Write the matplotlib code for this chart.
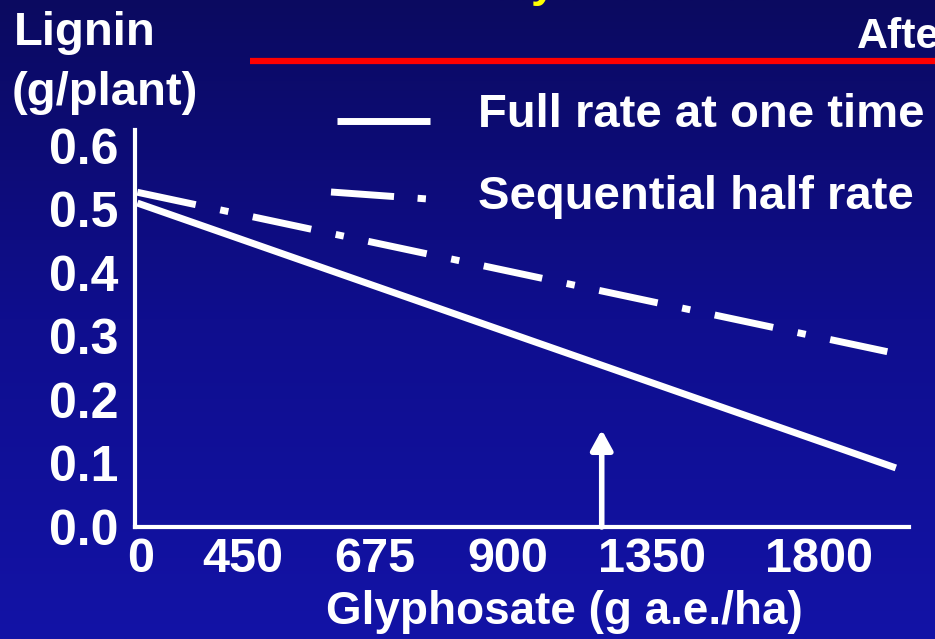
import matplotlib
matplotlib.use("Agg")
import matplotlib.pyplot as plt
import numpy as np
from matplotlib.lines import Line2D
from matplotlib.colors import LinearSegmentedColormap

plt.rcParams['font.family'] = ['Liberation Sans', 'DejaVu Sans']
plt.rcParams['font.weight'] = 'bold'

# Data (x is the drawn position along the axis, labelled by rate)
x_tick_pos = [0.007, 0.139, 0.310, 0.482, 0.668, 0.884]
x_tick_labels = ['0', '450', '675', '900', '1350', '1800']
y_ticks = [0.0, 0.1, 0.2, 0.3, 0.4, 0.5, 0.6]

full_x = [0.003, 0.983]
full_y = [0.510, 0.093]
seq_x = [0.003, 0.972]
seq_y = [0.527, 0.276]

arrow_x = 0.603
arrow_top = 0.153

W, H = 935, 639
fig = plt.figure(figsize=(W / 100, H / 100), dpi=100)

# gradient background
bg = fig.add_axes([0, 0, 1, 1], zorder=-10)
cmap = LinearSegmentedColormap.from_list('bg', ['#0B0A60', '#0F0E8E', '#1313A6'])
grad = np.linspace(0, 1, 256).reshape(-1, 1)
bg.imshow(grad, aspect='auto', cmap=cmap, extent=[0, 1, 0, 1], origin='upper')
bg.axis('off')

def fx(px):
    return px / W

def fy(py):
    return 1 - py / H

ax = fig.add_axes([fx(135), fy(527), fx(909) - fx(135), fy(130) - fy(527)])
ax.set_facecolor('none')
ax.set_xlim(0, 1)
ax.set_ylim(0, 0.625)

for s in ['top', 'right']:
    ax.spines[s].set_visible(False)
for s in ['left', 'bottom']:
    ax.spines[s].set_color('white')
    ax.spines[s].set_linewidth(3)

ax.set_yticks(y_ticks)
ax.set_yticklabels([f'{v:.1f}' for v in y_ticks])
ax.set_xticks(x_tick_pos)
ax.set_xticklabels(x_tick_labels)
ax.tick_params(axis='y', length=0, pad=12, labelsize=36, labelcolor='white')
ax.tick_params(axis='x', length=0, pad=7, labelsize=35, labelcolor='white')

ax.plot(full_x, full_y, color='white', lw=5, solid_capstyle='butt')
ax.plot(seq_x, seq_y, color='white', lw=5, dash_capstyle='butt',
        linestyle=(0, (8.6, 3.6, 1.2, 3.6)))

ax.annotate('', xy=(arrow_x, arrow_top), xytext=(arrow_x, 0),
            arrowprops=dict(arrowstyle='-|>,head_width=0.33,head_length=0.6',
                            color='white', lw=4, mutation_scale=20,
                            shrinkA=0, shrinkB=0))

# legend drawn by hand
fig.add_artist(Line2D([fx(337), fx(430)], [fy(121), fy(121)], color='white', lw=5,
                      solid_capstyle='butt'))
fig.add_artist(Line2D([fx(331), fx(428)], [fy(192), fy(199)], color='white', lw=5,
                      dash_capstyle='butt', linestyle=(0, (9.1, 3.4, 1.2, 6))))
fig.text(fx(478), fy(115), 'Full rate at one time', color='white', fontsize=34,
         fontweight='bold', ha='left', va='center')
fig.text(fx(478), fy(197), 'Sequential half rate', color='white', fontsize=34,
         fontweight='bold', ha='left', va='center')

# y label
fig.text(fx(14), fy(33), 'Lignin', color='white', fontsize=34, fontweight='bold',
         ha='left', va='center')
fig.text(fx(12), fy(93), '(g/plant)', color='white', fontsize=34, fontweight='bold',
         ha='left', va='center')

# x label
fig.text(fx(564), fy(612), 'Glyphosate (g a.e./ha)', color='white', fontsize=33,
         fontweight='bold', ha='center', va='center')

# header pieces (cut off slide title)
fig.add_artist(Line2D([fx(250), fx(935)], [fy(61), fy(61)], color='#FF0000', lw=4.5,
                      solid_capstyle='butt'))
fig.text(fx(857), fy(37), 'After', color='white', fontsize=31, fontweight='bold',
         ha='left', va='center')
fig.text(fx(543), fy(-16), 'y', color='#FFFF00', fontsize=33, fontweight='bold',
         ha='center', va='center')

fig.savefig('out.png', dpi=100)
